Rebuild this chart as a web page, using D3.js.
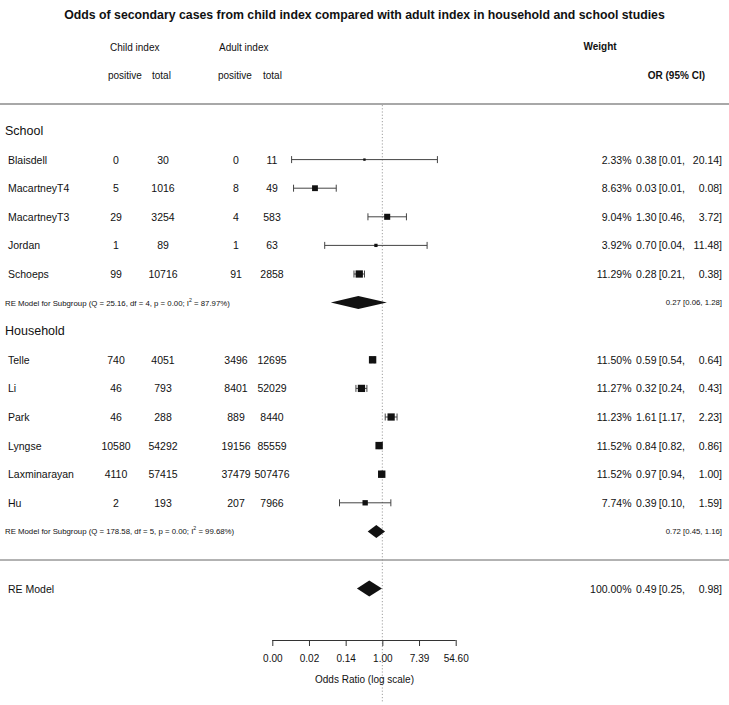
<!DOCTYPE html>
<html>
<head>
<meta charset="utf-8">
<script src="https://cdn.jsdelivr.net/npm/d3@7/dist/d3.min.js"></script>
<style>
  html, body { margin: 0; padding: 0; background: #fff; }
  svg { display: block; font-family: "Liberation Sans", Arial, Helvetica, sans-serif; }
</style>
</head>
<body>
<svg id="chart" width="729" height="705"></svg>
<script>
// ---------------- DATA ----------------
const title = "Odds of secondary cases from child index compared with adult index in household and school studies";
const groups = ["School", "Household"];
const studies = ["Blaisdell", "MacartneyT4", "MacartneyT3", "Jordan", "Schoeps",
                 "Telle", "Li", "Park", "Lyngse", "Laxminarayan", "Hu"];
const studyGroup = [0, 0, 0, 0, 0, 1, 1, 1, 1, 1, 1];
const childPos = [0, 5, 29, 1, 99, 740, 46, 46, 10580, 4110, 2];
const childTot = [30, 1016, 3254, 89, 10716, 4051, 793, 288, 54292, 57415, 193];
const adultPos = [0, 8, 4, 1, 91, 3496, 8401, 889, 19156, 37479, 207];
const adultTot = [11, 49, 583, 63, 2858, 12695, 52029, 8440, 85559, 507476, 7966];
const weights  = [2.33, 8.63, 9.04, 3.92, 11.29, 11.50, 11.27, 11.23, 11.52, 11.52, 7.74];
const orEst = [0.377, 0.0254, 1.302, 0.705, 0.284, 0.588, 0.320, 1.614, 0.839, 0.967, 0.392];
const orLo  = [0.0071, 0.0079, 0.456, 0.0432, 0.213, 0.538, 0.237, 1.169, 0.817, 0.9355, 0.0968];
const orHi  = [20.14, 0.081, 3.72, 11.48, 0.378, 0.643, 0.431, 2.23, 0.862, 1.0, 1.59];
// subgroup random-effects summaries
const subEst = [0.270, 0.72];
const subLo  = [0.0602, 0.45];
const subHi  = [1.28, 1.16];
const subQ   = ["25.16", "178.58"];
const subDf  = [4, 5];
const subP   = ["0.00", "0.00"];
const subI2  = ["87.97", "99.68"];
// overall
const allEst = 0.49, allLo = 0.25, allHi = 0.98;
const allWeight = "100.00%";
// axis ticks (log scale, natural log values)
const tickLogs = [-6, -4, -2, 0, 2, 4];
const tickLabels = ["0.00", "0.02", "0.14", "1.00", "7.39", "54.60"];

// ---------------- LAYOUT ----------------
const svg = d3.select("#chart");
const x = d3.scaleLinear().domain([-6, 4]).range([272.3, 455.7]);
const y = d3.scaleLinear().domain([0, 16]).range([131, 588.6]);
const sq = d3.scaleLinear().domain([d3.min(weights), d3.max(weights)]).range([2.4, 7.4]);
const lx = v => x(Math.log(v));
const f2 = d3.format(".2f");

const colChildPos = 116, colChildTot = 163, colAdultPos = 236, colAdultTot = 272;
const colWeight = 631.5, colEst = 656.5, colLo = 685, colHi = 722;
const fs = 10.5;

function txt(xp, yp, s, opts = {}) {
  return svg.append("text")
    .attr("x", xp).attr("y", yp)
    .attr("dominant-baseline", "central")
    .attr("text-anchor", opts.anchor || "start")
    .attr("font-size", opts.size || fs)
    .attr("font-weight", opts.bold ? "bold" : "normal")
    .attr("fill", "#111")
    .text(s);
}

// title
txt(364.5, 15, title, { anchor: "middle", size: 12.3, bold: true });

// headers
txt(110, 47, "Child index", { size: 10 });
txt(219, 47, "Adult index", { size: 10 });
txt(108, 75, "positive", { size: 10 });
txt(152, 75, "total", { size: 10 });
txt(218, 75, "positive", { size: 10 });
txt(263, 75, "total", { size: 10 });
txt(600, 46, "Weight", { anchor: "middle", size: 10, bold: true });
txt(705, 75, "OR (95% CI)", { anchor: "end", size: 10, bold: true });

// horizontal rules
svg.append("line").attr("x1", 0).attr("x2", 729).attr("y1", 104).attr("y2", 104)
  .attr("stroke", "#a8a8a8").attr("stroke-width", 2);
svg.append("line").attr("x1", 0).attr("x2", 729).attr("y1", y(15)).attr("y2", y(15))
  .attr("stroke", "#666").attr("stroke-width", 1);

// reference line at OR = 1
svg.append("line").attr("x1", x(0)).attr("x2", x(0)).attr("y1", 105).attr("y2", 703)
  .attr("stroke", "#888").attr("stroke-width", 0.8).attr("stroke-dasharray", "1.2,2");

// rows
let row = 0;
groups.forEach((g, gi) => {
  txt(5, y(row), g, { size: 12.5 });
  row++;
  studies.forEach((s, i) => {
    if (studyGroup[i] !== gi) return;
    const yy = y(row);
    txt(8, yy, s);
    txt(colChildPos, yy, childPos[i], { anchor: "middle" });
    txt(colChildTot, yy, childTot[i], { anchor: "middle" });
    txt(colAdultPos, yy, adultPos[i], { anchor: "middle" });
    txt(colAdultTot, yy, adultTot[i], { anchor: "middle" });
    txt(colWeight, yy, f2(weights[i]) + "%", { anchor: "end" });
    txt(colEst, yy, f2(orEst[i]), { anchor: "end" });
    txt(colLo, yy, "[" + f2(orLo[i]) + ",", { anchor: "end" });
    txt(colHi, yy, f2(orHi[i]) + "]", { anchor: "end" });
    // CI line
    const gci = svg.append("g").attr("stroke", "#444").attr("stroke-width", 1);
    gci.append("line").attr("x1", lx(orLo[i])).attr("x2", lx(orHi[i])).attr("y1", yy).attr("y2", yy);
    [orLo[i], orHi[i]].forEach(v => {
      gci.append("line").attr("x1", lx(v)).attr("x2", lx(v)).attr("y1", yy - 3.5).attr("y2", yy + 3.5);
    });
    const s2 = sq(weights[i]);
    svg.append("rect").attr("x", lx(orEst[i]) - s2 / 2).attr("y", yy - s2 / 2)
      .attr("width", s2).attr("height", s2).attr("fill", "#111");
    row++;
  });
  // subgroup summary
  const ys = y(row);
  const t = svg.append("text").attr("x", 5).attr("y", ys).attr("dominant-baseline", "central")
    .attr("font-size", 7.8).attr("fill", "#111");
  t.append("tspan").text("RE Model for Subgroup (Q = " + subQ[gi] + ", df = " + subDf[gi] + ", p = " + subP[gi] + "; I");
  t.append("tspan").attr("font-size", 5.2).attr("dy", -3).text("2");
  t.append("tspan").attr("dy", 3).text(" = " + subI2[gi] + "%)");
  txt(colHi, ys, f2(subEst[gi]) + " [" + f2(subLo[gi]) + ", " + f2(subHi[gi]) + "]", { anchor: "end", size: 7.8 });
  const h = 6.5;
  svg.append("path").attr("fill", "#111").attr("d",
    `M${lx(subLo[gi])},${ys} L${lx(subEst[gi])},${ys - h} L${lx(subHi[gi])},${ys} L${lx(subEst[gi])},${ys + h} Z`);
  row++;
});

// overall
row++;
const yo = y(row);
txt(8, yo, "RE Model");
txt(colWeight, yo, allWeight, { anchor: "end" });
txt(colEst, yo, f2(allEst), { anchor: "end" });
txt(colLo, yo, "[" + f2(allLo) + ",", { anchor: "end" });
txt(colHi, yo, f2(allHi) + "]", { anchor: "end" });
svg.append("path").attr("fill", "#111").attr("d",
  `M${lx(allLo)},${yo} L${lx(allEst)},${yo - 8} L${lx(allHi)},${yo} L${lx(allEst)},${yo + 8} Z`);

// x axis
const axis = d3.axisBottom(x).tickValues(tickLogs).tickSize(6).tickPadding(9)
  .tickFormat((d, i) => tickLabels[i]);
const ga = svg.append("g").attr("transform", "translate(0,640)").call(axis);
ga.select(".domain").attr("stroke", "#333").attr("d", `M${x(-6)},0.5H${x(4)}`);
ga.selectAll(".tick line").attr("stroke", "#333");
ga.selectAll(".tick text").attr("font-size", 10).attr("fill", "#111")
  .attr("font-family", "Liberation Sans, Arial, sans-serif");
txt(364.5, 679, "Odds Ratio (log scale)", { anchor: "middle", size: 10 });
</script>
</body>
</html>
